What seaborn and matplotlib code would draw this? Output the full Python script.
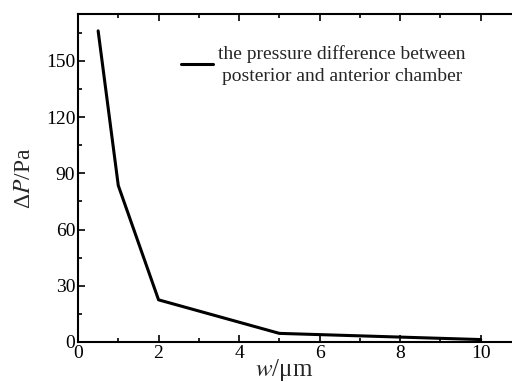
import matplotlib
matplotlib.use("Agg")
import matplotlib.pyplot as plt
import seaborn as sns
import pandas as pd
from matplotlib.ticker import MultipleLocator

w_um = [0.5, 1, 2, 5, 10]
delta_p = [166, 83.5, 22.5, 4.6, 1.3]
series_label = "the pressure difference between\nposterior and anterior chamber"

sns.set_style("ticks")
plt.rcParams['font.family'] = ['Liberation Serif', 'DejaVu Serif']
plt.rcParams['mathtext.fontset'] = 'stix'

df = pd.DataFrame({"w": w_um, "dp": delta_p})

fig = plt.figure(figsize=(5.12, 3.82), dpi=100)
ax = fig.add_axes([78/512, 40/382, 443/512, 328/382])
sns.lineplot(data=df, x="w", y="dp", ax=ax, color="black", linewidth=2.2, label=series_label)

ax.set_xlim(0, 11)
ax.set_ylim(0, 175)
ax.xaxis.set_major_locator(MultipleLocator(2))
ax.xaxis.set_minor_locator(MultipleLocator(1))
ax.yaxis.set_major_locator(MultipleLocator(30))
ax.yaxis.set_minor_locator(MultipleLocator(15))
ax.tick_params(which="both", direction="in", top=True, right=True, width=1.2, labelsize=14, colors="black", pad=2)
ax.tick_params(which="major", length=5)
ax.tick_params(which="minor", length=3)
for s in ax.spines.values():
    s.set_linewidth(1.5)
    s.set_color("black")

ax.set_xlabel(r"$\it{w}$/μm", fontsize=18, labelpad=-3.5, x=0.465)
ax.set_ylabel(r"Δ$\it{P}$/Pa", fontsize=17, labelpad=8)

leg = ax.legend(loc="upper left", bbox_to_anchor=(0.215, 0.93), frameon=False,
                fontsize=14, handlelength=1.65, handletextpad=0.25, borderaxespad=0)
for t in leg.get_texts():
    t.set_multialignment("center")
    t.set_linespacing(1.4)

fig.savefig("out.png", dpi=100)
